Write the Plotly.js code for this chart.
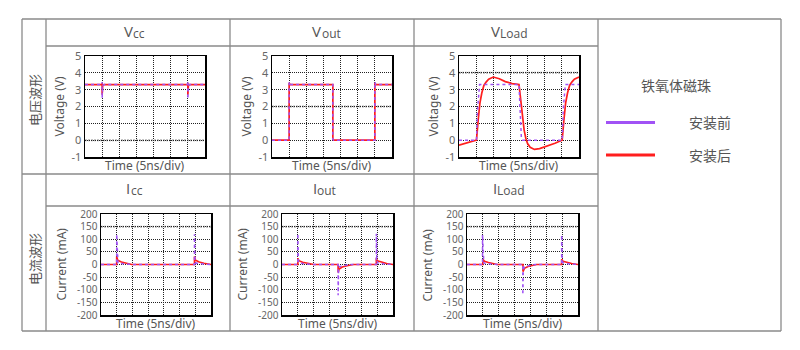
<!DOCTYPE html>
<html><head><meta charset="utf-8">
<script src="https://cdn.plot.ly/plotly-3.0.1.min.js"></script>
<style>html,body{margin:0;padding:0;background:#fff}#chart{width:800px;height:350px}</style>
</head><body><div id="chart"></div>
<script>
// ---------- data (x in divisions of 5 ns, voltage in V, current in mA) ----------
const vccBeforeX = [0, 1.0, 1.0, 1.0, 1.04, 1.12, 6.0, 6.0, 6.0, 6.04, 6.12, 7];
const vccBeforeY = [3.3, 3.3, 3.45, 2.5, 3.25, 3.3, 3.3, 3.5, 2.45, 3.25, 3.3, 3.3];
const vccAfterX  = [0, 1.0, 1.0, 1.0, 1.03, 1.1, 6.0, 6.0, 6.0, 6.03, 6.1, 7];
const vccAfterY  = [3.3, 3.3, 3.4, 2.7, 3.25, 3.3, 3.3, 3.4, 2.7, 3.25, 3.3, 3.3];

const voutBeforeX = [0, 1.0, 1.0, 1.05, 1.15, 3.55, 3.55, 3.6, 6.0, 6.0, 6.05, 6.15, 7];
const voutBeforeY = [0, 0, 3.45, 3.3, 3.3, 3.3, 0.05, 0, 0, 3.45, 3.3, 3.3, 3.3];
const voutAfterX  = [0, 1.0, 1.0, 1.05, 1.15, 3.55, 3.55, 3.6, 6.0, 6.0, 6.05, 6.15, 7];
const voutAfterY  = [0, 0, 3.4, 3.3, 3.3, 3.3, 0.05, 0, 0, 3.4, 3.3, 3.3, 3.3];

const vloadBeforeX = [0, 1.02, 1.08, 1.16, 1.2, 3.5, 3.56, 3.64, 3.7, 6.02, 6.08, 6.16, 6.2, 7];
const vloadBeforeY = [0, 0, 1.8, 3.2, 3.3, 3.3, 1.5, 0.1, 0, 0, 1.8, 3.2, 3.3, 3.3];
const vloadAfterX  = [0, 0.3, 0.6, 0.9, 1.02, 1.12, 1.22, 1.33, 1.45, 1.58, 1.73, 2.0, 2.35, 2.7, 3.1, 3.5, 3.6, 3.7, 3.8, 3.9, 4.0, 4.15, 4.4, 4.7, 5.0, 5.3, 5.6, 5.9, 6.02, 6.12, 6.22, 6.33, 6.45, 6.58, 6.73, 7.0];
const vloadAfterY  = [-0.3, -0.22, -0.12, -0.04, 0.0, 1.2, 2.2, 2.8, 3.25, 3.45, 3.62, 3.75, 3.65, 3.48, 3.36, 3.3, 2.4, 1.3, 0.6, 0.1, -0.2, -0.42, -0.55, -0.5, -0.4, -0.3, -0.18, -0.05, 0.0, 1.2, 2.2, 2.8, 3.25, 3.45, 3.62, 3.75];

const iccBeforeX = [0, 1.0, 1.0, 1.03, 1.08, 1.2, 1.4, 1.7, 2.0, 5.95, 5.95, 5.98, 6.03, 6.15, 6.35, 6.65, 7];
const iccBeforeY = [0, 0, 120, 15, 6, 4, 3, 1, 0, 0, 120, 15, 6, 4, 3, 1, 0];
const iccAfterX  = [0, 1.0, 1.0, 1.06, 1.3, 1.6, 1.95, 5.95, 5.95, 6.01, 6.25, 6.55, 7];
const iccAfterY  = [0, 0, 32, 17, 10, 5, 0, 0, 32, 17, 10, 5, 0];

const ioutBeforeX = [0, 1.0, 1.0, 1.03, 1.08, 1.2, 1.5, 2.0, 3.54, 3.54, 3.57, 3.65, 3.8, 4.0, 4.3, 5.95, 5.95, 5.98, 6.05, 6.2, 6.5, 7];
const ioutBeforeY = [0, 0, 122, 15, 6, 4, 2, 0, 0, -122, -15, -8, -5, -3, 0, 0, 122, 15, 6, 4, 2, 0];
const ioutAfterX  = [0, 1.0, 1.0, 1.06, 1.3, 1.6, 2.0, 3.54, 3.54, 3.6, 3.8, 4.1, 4.5, 5.95, 5.95, 6.01, 6.3, 6.6, 7];
const ioutAfterY  = [0, 0, 25, 15, 9, 4, 0, 0, -32, -18, -10, -5, 0, 0, 25, 15, 9, 4, 0];

const iloadBeforeX = [0, 0.98, 0.98, 1.01, 1.06, 1.2, 1.5, 2.0, 3.52, 3.52, 3.55, 3.63, 3.8, 4.0, 4.3, 5.97, 5.97, 6.0, 6.07, 6.2, 6.5, 7];
const iloadBeforeY = [0, 0, 117, 15, 6, 4, 2, 0, 0, -120, -20, -8, -5, -3, 0, 0, 117, 15, 6, 4, 2, 0];
const iloadAfterX  = [0, 1.0, 1.0, 1.1, 1.35, 1.6, 1.9, 3.53, 3.53, 3.62, 3.85, 4.1, 4.4, 5.97, 5.97, 6.05, 6.3, 6.6, 7];
const iloadAfterY  = [0, 0, 21, 13, 8, 4, 0, 0, -28, -15, -8, -4, 0, 0, 21, 13, 8, 4, 0];

const titleMain = ['V', 'V', 'V', 'I', 'I', 'I'];
const titleSub  = ['cc', 'out', 'Load', 'cc', 'out', 'Load'];
const yTitles   = ['Voltage (V)', 'Voltage (V)', 'Voltage (V)', 'Current (mA)', 'Current (mA)', 'Current (mA)'];
const xTitle    = 'Time (5ns/div)';
const rowLabels = ['电压波形', '电流波形'];
const legendTitle = '铁氧体磁珠';
const seriesNames = ['安装前', '安装后'];
const voltTicks = [-1, 0, 1, 2, 3, 4, 5];
const currTicks = [-200, -150, -100, -50, 0, 50, 100, 150, 200];
const refLevels = [0, 2, 4, 150, 150, 150];
const timeRange = [0, 7];

// ---------- layout helpers ----------
const W = 800, H = 350;
const px = v => v / W;
const py = v => 1 - v / H;
const FONT = 'Noto Sans, Noto Sans CJK SC, sans-serif';
const HFONT = 'Open Sans';
const CJK = 'Noto Sans CJK SC, Noto Sans, sans-serif';
const TXT = '#555';
const C_BEFORE = '#a152f5';
const C_AFTER = '#ff1e1e';

// plot frames [left, right, top, bottom] in pixels
const frames = [
  [85, 205, 56, 157], [272, 392, 56, 157], [459, 579, 56, 157],
  [101, 211, 214, 315], [282, 393, 214, 315], [467, 578, 214, 315]
];
const headerCenters = [134, 326, 509, 134, 324, 508];
const series = [
  [vccBeforeX, vccBeforeY, vccAfterX, vccAfterY],
  [voutBeforeX, voutBeforeY, voutAfterX, voutAfterY],
  [vloadBeforeX, vloadBeforeY, vloadAfterX, vloadAfterY],
  [iccBeforeX, iccBeforeY, iccAfterX, iccAfterY],
  [ioutBeforeX, ioutBeforeY, ioutAfterX, ioutAfterY],
  [iloadBeforeX, iloadBeforeY, iloadAfterX, iloadAfterY]
];

// rough glyph width factors (em) for centering the two-part headers
const glyphW = {V: 0.6, I: 0.3, c: 0.5, o: 0.6, u: 0.6, t: 0.36, L: 0.52, a: 0.56, d: 0.6};
const textW = (s, size) => s.split('').reduce((a, ch) => a + (glyphW[ch] || 0.55) * size, 0);

const data = [];
const layout = {
  width: W, height: H, margin: {l: 0, r: 0, t: 0, b: 0},
  paper_bgcolor: '#fff', plot_bgcolor: '#fff', showlegend: false,
  font: {family: FONT, color: TXT},
  shapes: [], annotations: []
};

const axBase = {
  showline: true, mirror: true, linecolor: '#000', linewidth: 1.5,
  showgrid: true, gridcolor: '#222', griddash: '1px,1px', gridwidth: 1,
  zeroline: false, ticks: '', fixedrange: true
};

frames.forEach((f, i) => {
  const n = i + 1;
  const xa = n === 1 ? 'xaxis' : 'xaxis' + n;
  const ya = n === 1 ? 'yaxis' : 'yaxis' + n;
  const xr = n === 1 ? 'x' : 'x' + n;
  const yr = n === 1 ? 'y' : 'y' + n;
  const isV = i < 3;
  const ticks = isV ? voltTicks : currTicks;
  layout[xa] = Object.assign({}, axBase, {
    domain: [px(f[0]), px(f[1])], anchor: yr, range: timeRange,
    tickmode: 'linear', tick0: 0, dtick: 1, showticklabels: false
  });
  layout[ya] = Object.assign({}, axBase, {
    domain: [py(f[3]), py(f[2])], anchor: xr,
    range: [ticks[0], ticks[ticks.length - 1]],
    tickmode: 'array', tickvals: ticks, ticktext: ticks.map(String),
    tickfont: {size: isV ? 11 : 10, color: '#666', family: FONT}
  });
  const s = series[i];
  data.push({x: s[2], y: s[3], xaxis: xr, yaxis: yr, type: 'scatter', mode: 'lines',
    name: seriesNames[1], line: {color: C_AFTER, width: 1.7}, hoverinfo: 'skip'});
  data.push({x: s[0], y: s[1], xaxis: xr, yaxis: yr, type: 'scatter', mode: 'lines',
    name: seriesNames[0], line: {color: C_BEFORE, width: 1.5, dash: '3px,3px'}, hoverinfo: 'skip'});
  // gray reference level
  layout.shapes.push({type: 'line', xref: xr, yref: yr, x0: timeRange[0], x1: timeRange[1],
    y0: refLevels[i], y1: refLevels[i], layer: 'below',
    line: {color: '#b4b4b4', width: 2, dash: '2px,1px'}});
  // header: large letter + smaller suffix on a shared baseline
  const rowY = i < 3 ? 33 : 190;
  const off = i < 3 ? 9 : 9.5;
  const mw = textW(titleMain[i], 15), sw = textW(titleSub[i], 12);
  const split = headerCenters[i] - (mw + sw) / 2 + mw;
  layout.annotations.push({xref: 'paper', yref: 'paper', x: px(split + 1), y: py(rowY + off),
    xanchor: 'right', yanchor: 'bottom', showarrow: false, borderpad: 0,
    text: titleMain[i], font: {size: 15, color: TXT, family: HFONT}});
  layout.annotations.push({xref: 'paper', yref: 'paper', x: px(split - 0.5), y: py(rowY + off + 0.8),
    xanchor: 'left', yanchor: 'bottom', showarrow: false, borderpad: 0,
    text: titleSub[i], font: {size: 12, color: TXT, family: HFONT}});
  // y title
  layout.annotations.push({xref: 'paper', yref: 'paper', x: px(f[0] - (isV ? 26 : 40)), y: py((f[2] + f[3]) / 2),
    xanchor: 'center', yanchor: 'middle', showarrow: false, textangle: -90,
    text: yTitles[i], font: {size: 12, color: TXT, family: FONT}});
  // x title
  layout.annotations.push({xref: 'paper', yref: 'paper', x: px((f[0] + f[1]) / 2), y: py(f[3] + 8.5),
    xanchor: 'center', yanchor: 'middle', showarrow: false,
    text: xTitle, font: {size: 12, color: TXT, family: FONT}});
});

// row labels
rowLabels.forEach((t, r) => {
  layout.annotations.push({xref: 'paper', yref: 'paper', x: px(34), y: py(r === 0 ? 100 : 259),
    xanchor: 'center', yanchor: 'middle', showarrow: false, textangle: -90,
    text: t, font: {size: 13, color: TXT, family: CJK}});
});

// table grid
const LC = '#8a8a8a';
function hline(y, x0, x1) { layout.shapes.push({type: 'line', xref: 'paper', yref: 'paper', x0: px(x0), x1: px(x1), y0: py(y), y1: py(y), line: {color: LC, width: 1.3}}); }
function vline(x, y0, y1) { layout.shapes.push({type: 'line', xref: 'paper', yref: 'paper', x0: px(x), x1: px(x), y0: py(y0), y1: py(y1), line: {color: LC, width: 1.3}}); }
hline(19, 22, 781); hline(331, 22, 781);
vline(22, 19, 331); vline(781, 19, 331);
[46, 230, 414, 598].forEach(x => vline(x, 19, 331));
hline(46, 46, 598); hline(174, 22, 598); hline(206, 46, 598);

// legend
layout.annotations.push({xref: 'paper', yref: 'paper', x: px(676), y: py(85), xanchor: 'center', yanchor: 'middle',
  showarrow: false, text: legendTitle, font: {size: 14, color: TXT, family: CJK}});
[[C_BEFORE, 122.5], [C_AFTER, 155]].forEach((c, k) => {
  layout.shapes.push({type: 'line', xref: 'paper', yref: 'paper', x0: px(606), x1: px(655), y0: py(c[1]), y1: py(c[1]),
    line: {color: c[0], width: 3}});
  layout.annotations.push({xref: 'paper', yref: 'paper', x: px(710), y: py(c[1]), xanchor: 'center', yanchor: 'middle',
    showarrow: false, text: seriesNames[k], font: {size: 14, color: TXT, family: CJK}});
});

Plotly.newPlot('chart', data, layout, {staticPlot: true, displayModeBar: false});
</script></body></html>
